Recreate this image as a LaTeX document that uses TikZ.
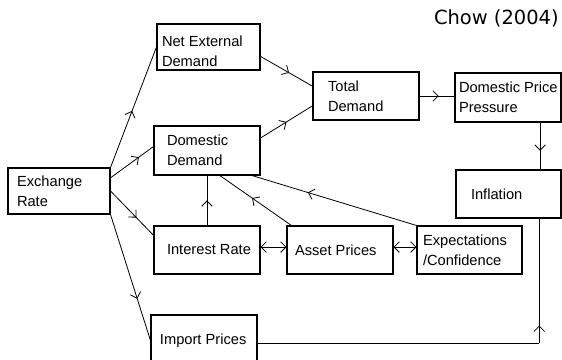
\documentclass[tikz,border=0pt]{standalone}
\usepackage{fontspec}
\setmainfont{Liberation Sans}
\newfontfamily\titlefont{DejaVu Sans}
\usetikzlibrary{arrows.meta,decorations.markings,calc}
% #1 left indent, #2 box width, #3 text
\newcommand{\boxtxt}[3]{\parbox{#2}{\raggedright\leftskip=#1\relax #3}}
\begin{document}
\begin{tikzpicture}[x=0.75pt,y=-0.75pt,
  box/.style={draw, line width=0.8pt, rectangle, inner xsep=0pt, inner ysep=0pt,
    font=\fontsize{11}{15}\selectfont},
  link/.style={line width=0.6pt},
  midarrow/.style={link, postaction={decorate, decoration={markings,
    mark=at position #1 with {\arrow{Straight Barb[length=4pt,width=8pt,line width=0.6pt]}}}}},
  midarrow/.default=0.55,
  bothtips/.style={link, {Straight Barb[length=4pt,width=8pt,line width=0.6pt]}-{Straight Barb[length=4pt,width=8pt,line width=0.6pt]}}
]
\clip (0,0) rectangle (562,360);
\fill[white] (0,0) rectangle (562,360);

\node[font=\titlefont\fontsize{14.6}{16}\selectfont, anchor=east, inner sep=0pt] (title) at (559,18) {Chow (2004)};

\node[box, minimum height=34.5pt] (er) at (59,191) {\boxtxt{6.75pt}{76.5pt}{Exchange\\Rate}};
\node[box, minimum height=34.5pt] (ned) at (208.5,47) {\boxtxt{3.75pt}{77.25pt}{\vspace*{6pt}Net External\\Demand}};
\node[box, minimum height=36.75pt] (dd) at (207,150.5) {\boxtxt{9.75pt}{79.5pt}{Domestic\\Demand}};
\node[box, minimum height=36pt] (ir) at (207,250) {\boxtxt{9.75pt}{79.5pt}{Interest Rate}};
\node[box, minimum height=36pt] (ap) at (340,250) {\boxtxt{6pt}{79.5pt}{Asset Prices}};
\node[box, minimum height=36pt] (ex) at (469.5,250) {\boxtxt{4.5pt}{78.75pt}{Expectations\\/Confidence}};
\node[box, minimum height=42pt] (ip) at (204,343) {\boxtxt{6.75pt}{79.5pt}{Import Prices\\[-10pt]\mbox{}}};
\node[box, minimum height=36pt] (td) at (366,96) {\boxtxt{11.25pt}{79.5pt}{Total\\Demand}};
\node[box, minimum height=36.75pt] (dpp) at (508,97.5) {\boxtxt{3pt}{79.5pt}{Domestic Price\\Pressure}};
\node[box, minimum height=36pt] (inf) at (508.5,194) {\boxtxt{11.25pt}{78.75pt}{Inflation}};

% from exchange rate
\draw[midarrow=0.47] (er.north east) -- (ned.west);
\draw[midarrow=0.66] ($(er.north east)!0.22!(er.south east)$) -- ($(dd.north west)!0.42!(dd.south west)$);
\draw[midarrow=0.6] ($(er.north east)!0.5!(er.south east)$) -- ($(ir.north west)!0.2!(ir.south west)$);
\draw[midarrow=0.67] (er.south east) -- ($(ip.north west)+(0,26)$);

% to total demand
\draw[midarrow] ($(ned.north east)!0.7!(ned.south east)$) -- ($(td.north west)!0.3!(td.south west)$);
\draw[midarrow=0.5] ($(dd.north east)!0.25!(dd.south east)$) -- ($(td.north west)!0.7!(td.south west)$);
\draw[midarrow] (td.east) -- (td.east -| dpp.west);

% price pressure to inflation
\draw[midarrow=0.6] ($(dpp.south west)!0.8!(dpp.south east)$) coordinate (pa) -- (pa |- inf.north);

% import prices to inflation
\coordinate (pb) at ($(inf.south west)!0.79!(inf.south east)$);
\coordinate (pc) at (pb |- ip.east);
\draw[link] (ip.east) -- (pc);
\draw[midarrow=0.14] (pc) -- (pb);

% to domestic demand
\draw[midarrow=0.5] (ir.north) -- (ir.north |- dd.south);
\draw[midarrow] ($(ap.north west)+(5,0)$) -- ($(dd.south west)!0.62!(dd.south east)$);
\draw[midarrow=0.66] (ex.north west) -- ($(dd.south west)!0.92!(dd.south east)$);

% two-way links
\draw[bothtips] ($(ir.north east)!0.44!(ir.south east)$) -- ($(ap.north west)!0.44!(ap.south west)$);
\draw[bothtips] ($(ap.north east)!0.44!(ap.south east)$) -- ($(ex.north west)!0.44!(ex.south west)$);
\end{tikzpicture}
\end{document}
